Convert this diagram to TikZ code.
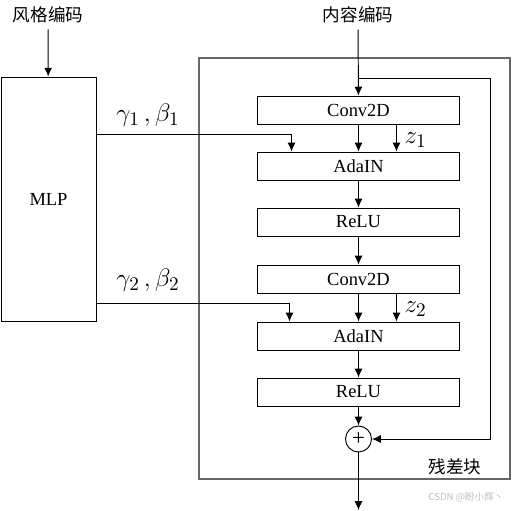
\documentclass[tikz,border=0pt]{standalone}
\usepackage{fontspec}
\setmainfont{Liberation Serif}
\newfontfamily\cjk{Noto Sans CJK SC}
\usetikzlibrary{arrows.meta}
\begin{document}
\begin{tikzpicture}[x=0.02cm, y=-0.02cm, line width=0.55pt,
    >={Latex[length=5pt,width=4.5pt]},
    layer/.style={draw, rectangle, minimum width=4.06cm, minimum height=0.56cm, inner sep=0pt, font=\fontsize{10.5}{12}\selectfont},
    lbl/.style={font=\fontsize{15.5}{18}\selectfont},
    zh/.style={font=\cjk\fontsize{10}{12}\selectfont}]
\useasboundingbox (0,0) rectangle (511,511);
\draw[black!60, line width=0.8pt] (199,58) rectangle (510,479);
\node[zh] (style) at (48,15) {风格编码};
\node[zh] (content) at (358,15) {内容编码};
\node[draw, rectangle, minimum width=1.9cm, minimum height=4.9cm, inner sep=0pt, font=\fontsize{10.5}{12}\selectfont] (mlp) at (48.5,199.5) {MLP};
\node[layer] (conv1) at (358.5,110) {Conv2D};
\node[layer] (ada1)  at (358.5,166) {AdaIN};
\node[layer] (relu1) at (358.5,222) {ReLU};
\node[layer] (conv2) at (358.5,279) {Conv2D};
\node[layer] (ada2)  at (358.5,336) {AdaIN};
\node[layer] (relu2) at (358.5,392) {ReLU};
\node[draw, circle, minimum size=0.52cm, inner sep=0pt, font=\fontsize{13}{14}\selectfont] (plus) at (358.5,439) {+};
\coordinate (skip) at (358.5,78);
\coordinate (skipr) at (490,78);
\coordinate (out) at (358.5,510);

\draw[->] (style) -- (mlp);
\draw[->] (content) -- (conv1);
\draw[->] (skip) -- (skipr) |- (plus.east);
\draw[->] (conv1.south) -- (ada1.north);
\draw[->] ([xshift=-1.28cm]conv1.south east) -- ([xshift=-1.28cm]ada1.north east) node[lbl, right, midway, xshift=1pt, yshift=-1pt] {$z_1$};
\draw[->] (ada1) -- (relu1);
\draw[->] (relu1) -- (conv2);
\draw[->] (conv2.south) -- (ada2.north);
\draw[->] ([xshift=-1.28cm]conv2.south east) -- ([xshift=-1.28cm]ada2.north east) node[lbl, right, midway, xshift=1pt, yshift=-1pt] {$z_2$};
\draw[->] (ada2) -- (relu2);
\draw[->] (relu2) -- (plus);
\draw[->] (plus) -- (out);
\draw[->] (mlp.east |- 0,134) -| ([xshift=0.7cm]ada1.north west);
\draw[->] (mlp.east |- 0,303) -| ([xshift=0.66cm]ada2.north west);

\node[lbl] (gb1) at (148,115) {$\gamma_1\,,\beta_1$};
\node[lbl] (gb2) at (148,280) {$\gamma_2\,,\beta_2$};
\node[zh] (res) at (455,467) {残差块};
\node[gray!50, font=\cjk\fontsize{5.5}{6}\selectfont] (mark) at (466,497) {CSDN @盼小辉丶};
\end{tikzpicture}
\end{document}
